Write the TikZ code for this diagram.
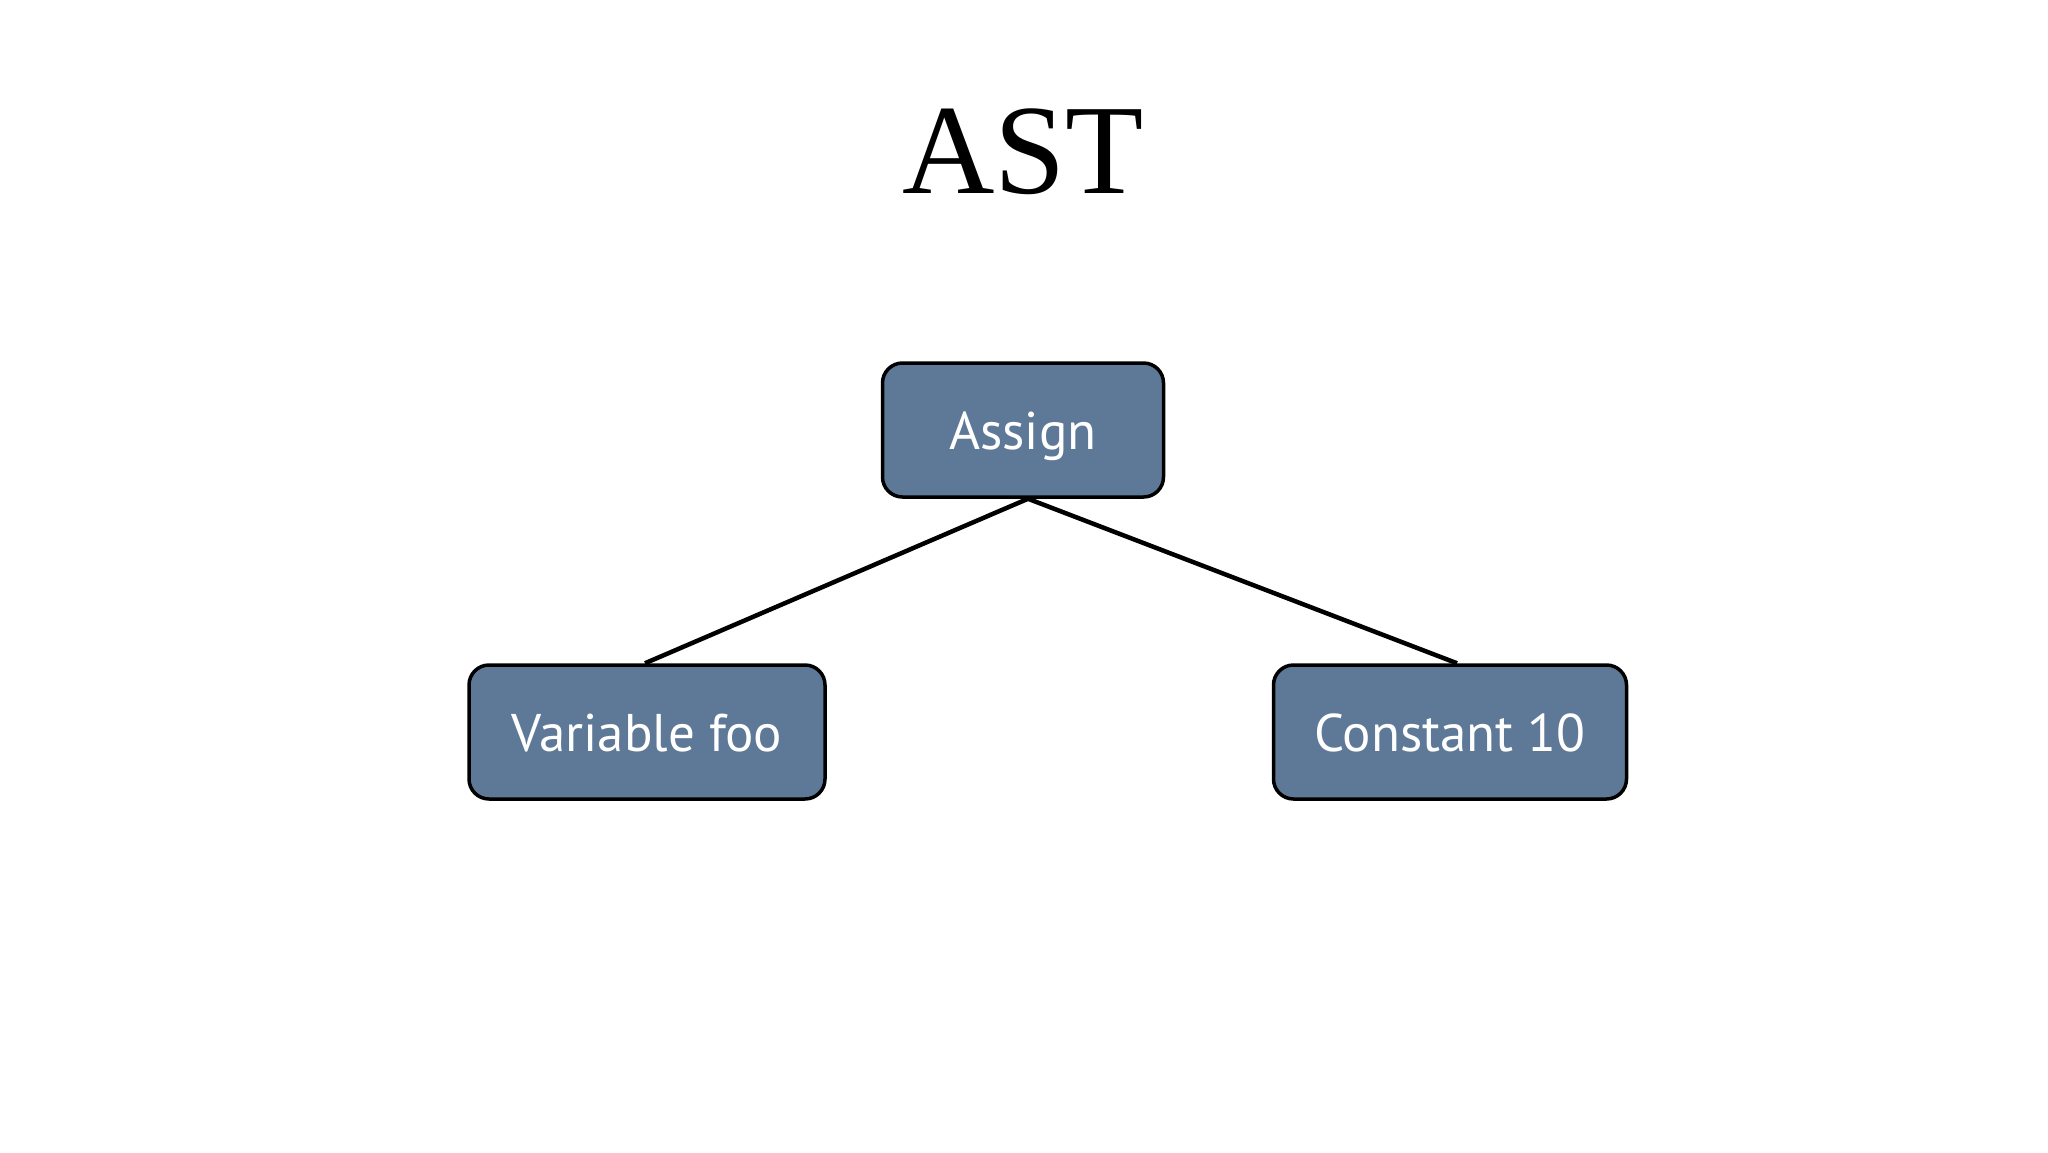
\documentclass[tikz,border=0pt]{standalone}
\usepackage{fontspec}
\setmainfont{Liberation Serif}
\newfontfamily\boxfont{PT Sans}
\definecolor{boxblue}{RGB}{94,121,152}
\begin{document}
\begin{tikzpicture}[x=1pt,y=-1pt,
  astbox/.style={draw=black, line width=3.5pt, fill=boxblue, rounded corners=20pt,
    minimum height=134pt, text=white, font=\boxfont\fontsize{53}{58}\selectfont,
    inner sep=0pt, text height=40pt, text depth=2pt},
  edge/.style={line width=4.5pt, draw=black}]
\useasboundingbox (0,0) rectangle (2048,1152);
\fill[white] (0,0) rectangle (2048,1152);
\node[font=\fontsize{128}{134}\selectfont, anchor=base] (title) at (1023,193) {AST};
\node[astbox, minimum width=281pt] (assign) at (1023,430) {Assign};
\node[astbox, minimum width=356pt] (var) at (647,732) {Variable foo};
\node[astbox, minimum width=353pt] (const) at (1450,732) {Constant 10};
\draw[edge] ([xshift=5pt]assign.south) -- ([xshift=-2pt]var.north);
\draw[edge] ([xshift=5pt]assign.south) -- ([xshift=7pt]const.north);
\end{tikzpicture}
\end{document}
